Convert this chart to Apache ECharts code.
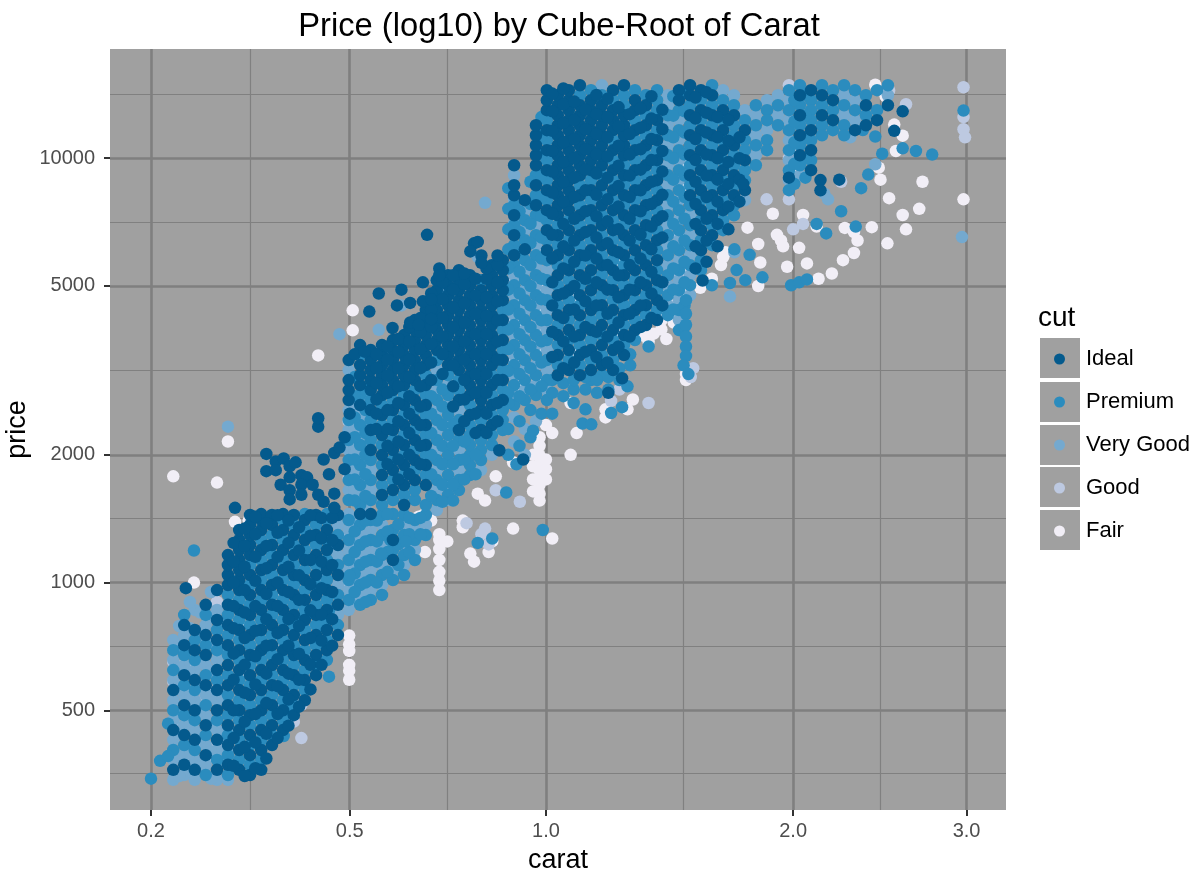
<!DOCTYPE html>
<html><head><meta charset="utf-8">
<script src="https://cdn.jsdelivr.net/npm/echarts@6/dist/echarts.min.js"></script>
<style>html,body{margin:0;background:#fff}#c{width:1196px;height:873px}</style></head>
<body><div id="c"></div><script>
const title = 'Price (log10) by Cube-Root of Carat';
const cutNames = ['Ideal','Premium','Very Good','Good','Fair'];
const cutColors = ['#045a8d','#2b8cbe','#74a9cf','#bdc9e1','#f1eef6'];
const caratBreaks = [0.2,0.5,1,2,3];
const caratMinor = [0.327,0.721,1.5,2.47];
const priceBreaks = [500,1000,2000,5000,10000];
const priceMinor = [356,707,1414,3162,7071,14142];

// each entry: carat, then the prices read at that carat
const ideal = [
[.225,[362,449,558]],[.238,[372,437,514,605,712,794]],[.251,[362,426,500,589,693,773]],[.265,[392,461,573,675,752,886]],[.28,[362,426,500,558,622,732,816,960]],
[.295,[372,414,461,514,573,639,712,794,886,987,1042,1100,1161]],[.311,[362,403,449,500,558,622,693,773,862,960,1014,1070,1130,1193,1260,1330]],
[.327,[352,392,437,487,543,605,675,752,839,935,1042,1161,1226,1294,1367,1443]],[.344,[362,403,449,500,558,622,693,773,862,960,1070,1193,1330,1404,1450]],
[.361,[414,461,514,573,639,712,794,886,987,1100,1226,1367,1443]],[.379,[449,500,558,622,693,773,862,960,1070,1193,1330,1450]],
[.397,[487,543,605,675,752,839,935,1042,1161,1294,1443]],[.416,[528,589,657,732,816,910,1014,1130,1260,1404]],[.436,[605,675,752,839,935,1042,1161,1294,1443]],
[.456,[693,773,862,960,1070,1193,1330]],[.477,[752,886,1042,1226,1443]],[.498,[2692,2842,3000,3344]],[.521,[2620,2920,3082,3254,3627,1450]],
[.543,[2052,2288,2550,2842,3000,3167,3344,3530,1450]],[.567,[1608,1792,1997,2226,2481,2766,2920,3082,3254,3436,3627]],
[.591,[1130,1260,1652,1841,2052,2288,2550,2842,3000,3167,3344,3530,3727]],[.616,[1523,1697,1892,2109,2350,2620,2920,3082,3254,3436,3627,3830]],
[.641,[1744,1944,2167,2415,2692,3000,3167,3344,3530,3727,3935,4154]],[.667,[1697,1892,2109,2350,2620,2920,3254,3436,3627,3830,4043,4386]],
[.694,[3530,3727,3935,4154,4386,4630,4888,5160]],[.722,[3254,3436,3627,3830,4043,4268,4506,4757,5022,5302]],
[.75,[2288,2692,3167,3344,3530,3727,3935,4154,4386,4630,4888,5160,5448]],[.779,[2481,2766,2920,3082,3254,3436,3627,3830,4043,4268,4506,4757,5022,5302]],
[.809,[2288,2550,2692,2842,3000,3167,3344,3530,3727,3935,4154,4386,4630,4888]],[.839,[2350,2620,2920,3254,3436,3627,3830,4043,4268,4506,4757,5022,5302,5597]],
[.87,[2692,3000,3344,3727,4154,4630,4888,5160,5448,5752]],[.903,[5909,6586,7340,8181,8637,9626]],[.935,[6100,7964]],[.969,[7749,8637,9626,10162,10729,11327,11958]],
[1.003,[6072,6768,7544,8408,9372,10446,11644,12978,13701,14465]],[1.038,[3082,3436,3830,4268,4757,5302,5909,6586,7340,7749,8181,8637,9118,9626,10162,10729,11327,11958,12625,13328,14071]],
[1.074,[3167,3530,3935,4386,4888,5448,6072,6768,7544,7964,8408,8877,9372,9895,10446,11029,11644,12292,12978,13701,14465]],
[1.111,[3082,3436,3830,4268,4757,5302,5909,6586,7340,8181,9118,9626,10162,10729,11327,11958,12625,13328,14860]],
[1.149,[3167,3530,3935,4386,4888,5448,6072,6768,7544,8408,9372,9895,10446,11029,11644,12292,12978,13701]],
[1.187,[3254,3627,4043,4506,5022,5597,6238,6953,7749,8637,9626,10162,10729,11327,11958,12625,13328]],
[1.227,[3167,3530,3935,4386,4888,5448,6072,6768,7544,8408,9372,10446,11644,12292,12978,14465]],
[1.267,[3436,3830,4268,4757,5302,5909,6586,7340,8181,9118,10162,10729,11327,11958,12625,14860]],
[1.308,[3935,4386,4888,5448,6072,6768,7544,8408,9372,10446,11644,12978,13701]],[1.35,[4043,4506,5022,5597,6238,6953,7749,8637,9626,10729,11958,13328]],
[1.393,[4154,4630,5160,5752,6411,7146,7964,8877,9895,11029,12292]],[1.481,[14465,13701]],[1.527,[14860,14071,12625,11327,10162,9118,8181]],
[1.573,[14465,12978,11644,10446,9372,8408,7544,6768,6072]],[1.621,[14071,12625,11327,10162,9118,8181,7340,6586]],[1.669,[12978,11644,10446,9372,8408,7544]],
[1.718,[12625,10729,9118,8181]],[1.768,[11644,9895,8408]],[1.979,[9000]],[2.034,[14071,12625,11327,10162]],[2.091,[14465,11644,10446,9372]],[2.148,[14071,12625]],[2.206,[13701,12292]],[2.326,[11644]],[2.387,[13328,11958]],[2.45,[12292]],[2.513,[13328]]
];
const idealFill = [
[.303,[370,430,500,590,680,780,880,1000,1120,1240]],[.319,[350,410,470,550,640,740,850,960,1090,1220,1340]],[.335,[365,420,490,575,670,770,880,1010,1150,1300,1430]],
[.352,[385,440,520,610,710,820,940,1080,1220,1380]],[.37,[430,490,570,660,760,880,1000,1150,1310,1440]],[.388,[460,530,610,710,820,950,1090,1240,1400]],
[.406,[510,590,680,790,910,1040,1190,1350]],[.426,[560,640,740,860,990,1130,1290,1440]],[.446,[640,730,840,970,1120,1270,1420]],[.466,[710,820,950,1100,1260,1420]],
[.555,[2300,2500,2700,2950,3200,3450]],[.579,[1900,2100,2300,2550,2800,3080,3350,3600]],[.603,[1750,1950,2150,2400,2650,2900,3200,3500,3750]],
[.628,[1800,2000,2250,2500,2750,3050,3350,3700,4000]],[.654,[1900,2100,2350,2600,2900,3200,3550,3900,4200]],[.68,[3000,3300,3650,4000,4400,4800]],
[.708,[3100,3450,3800,4200,4650,5100]],[.735,[2600,2900,3250,3600,4000,4450,4900,5300]],[.764,[2400,2700,3000,3350,3700,4100,4550,5050,5350]],
[.794,[2250,2500,2800,3100,3450,3850,4300,4750,5200]],[.824,[2250,2500,2800,3100,3450,3850,4250,4700,5200,5500]],[.855,[2400,2650,3000,3350,3700,4150,4600,5100,5600,5900]],
[1.02,[3400,3900,4500,5100,5800,6600,7400,8300,9300,10400,11600,12900,14200]],[1.056,[3200,3700,4200,4800,5500,6200,7000,7900,8800,9800,10900,12100,13400,14600]],
[1.092,[3300,3800,4400,5000,5700,6400,7200,8100,9000,10000,11100,12300,13600]],[1.13,[3500,4000,4600,5200,5900,6700,7500,8400,9400,10500,11700,13000]],
[1.168,[3400,3900,4500,5100,5800,6500,7300,8200,9200,10200,11400,12700,14100]],[1.207,[3300,3800,4300,4900,5600,6300,7100,8000,9000,10100,11200,12500,13800]],
[1.247,[3600,4100,4700,5300,6000,6800,7700,8600,9600,10700,11900,13200]],[1.288,[3800,4300,4900,5600,6400,7200,8100,9100,10200,11400,12700]],
[1.329,[4000,4500,5100,5800,6600,7500,8400,9400,10500,11800,13100]],[1.371,[4200,4800,5400,6100,6900,7800,8800,9900,11100,12400,14000]],[1.414,[4500,5100,6500,7300,8200,9300,10400,11700,13000]],
[1.55,[5500,6200,7000,7800,8800,9900,11100,12400,13900]],[1.597,[5700,6400,7200,8100,9100,10200,11500,12800,14300]],[1.645,[6200,7000,7900,8900,10000,11200,12500]],
[1.693,[6800,7700,8700,9800,11000,12300]],[1.743,[7900,8900,10000,11200]]
];
const idealExtra = [[.24,970],[.352,1830],[.352,2010],[.367,1930],[.367,1840],[.305,1500],[.38,1960],[.39,1880],[.4,1920],[.39,1770],[.41,1790],[.42,1770],[.375,1700],[.39,1650],[.41,1700],[.43,1700],[.39,1570],[.41,1610],[.44,1610],[.44,2330],[.44,2440],[.45,1950],[.47,2020],[.48,2080],[.46,1800],[.47,1620],[.45,1550],[.47,1500],[.49,1850],[.49,2200],[.5,2500],[.51,3450],[.53,3500],
[.67,6600],[.79,6300],[.8,6350],[.78,6030],[.81,5900],[.81,5670],[.7,5500],[.7,5300],[.66,5100],[.61,4900],[.56,4800],[.54,4350],[.6,4500],[.63,4560],[.66,4600],[.68,4650],[.59,3980],[.63,4100],[.65,4050],[.68,4180],
[2.14,8880],[2.14,8400],[2.24,8900],[2.6,12900],[2.55,11600],[1.76,8700],[1.21,2800],[1.26,3030],[1.58,5150],[.93,1950],[.86,2050]];

const premium = [
[.225,[403,500,622,693]],[.238,[414,487,573,675,839]],[.251,[403,474,558,657,732]],[.265,[352,437,514,605,712,839]],[.28,[382,474,589,693,773]],
[.295,[352,392,437,487,543,605,675,752,839,935]],[.311,[382,426,474,528,589,657,732,816,910]],[.327,[372,414,461,514,573,639,712,794,886,987,1100]],
[.344,[382,426,474,528,589,657,732,816,910,1014,1130,1260]],[.361,[437,487,543,605,675,752,839,935,1042,1161,1294]],[.379,[474,528,589,657,732,816,910,1014,1130,1260,1404]],
[.397,[514,573,639,712,794,886,987,1100,1226,1367]],[.416,[558,622,693,773,862,960,1070,1193,1330,1450]],[.436,[639,712,794,886,987,1100,1226,1367]],
[.456,[657,732,816,910,1014,1130,1260,1404,1450]],[.477,[794,935,1100,1294]],[.498,[910,1014,1130,1260,1404,1565,1744,1944,2167,2415]],
[.521,[886,987,1100,1226,1367,1523,1697,1892,2109,2350,2766,3436]],[.543,[910,1014,1130,1260,1404,1565,1744,1944,2167,2415,2692]],
[.567,[935,1042,1161,1294,1443,1523,1697,1892,2109,2350,2620]],[.591,[1014,1193,1330,1450,1565,1744,1944,2167,2415,2692]],[.616,[1042,1161,1294,1443,1608,1792,1997,2226,2481,2766]],
[.641,[1130,1260,1404,1565,1652,1841,2052,2288,2550,2842]],[.667,[1294,1443,1523,1792,1997,2226,2481,2766,3082,4268]],[.694,[1565,1744,1944,2167,2415,2692,3000,3344,5160]],
[.722,[1608,1792,1997,2226,2481,2766,3082,4757]],[.75,[1652,1744,1944,2167,2415,2842,3000]],[.779,[1792,1892,1997,2109,2226,2350,2620]],[.809,[1944,2052,2167,2415,5160]],
[.839,[2109,2226,2481,2766,3082]],[.87,[2288,2415,2550,2842,3167,3530,3935,4386]],[.903,[2620,2920,3254,3627,4043,4506,5022,5597,6238,6953,7749]],
[.935,[2692,3000,3344,3727,4154,4630,5160,5752,6411,7146]],[.969,[2766,3082,3436,3830,4268,4757,5302,5909,6586,7340,8181,9118]],
[1.003,[2692,3000,3344,3727,4154,4630,5160,5752,6411,7146,7964,8877,9895,11029,12292]],[1.038,[3254,3627,4043,4506,5022,5597,6238,6953]],[1.074,[3344,3727,4154,4630,5160,5752,6411,7146]],
[1.111,[3254,3627,4043,4506,5022,5597,6238,6953,7749,8637,14071]],[1.149,[3000,3344,3727,4154,4630,5160,5752,6411,7146,7964,8877,14465]],
[1.187,[3082,3436,3830,4268,4757,5302,5909,6586,7340,8181,9118,14071]],[1.227,[3344,3727,4154,4630,5160,5752,6411,7146,7964,8877,9895,11029,13701]],
[1.267,[3627,4043,4506,5022,5597,6238,6953,7749,8637,9626,13328,14071]],[1.308,[3727,4154,4630,5160,5752,6411,7146,7964,8877,9895,11029,12292,14465]],
[1.35,[4268,4757,5302,5909,6586,7340,8181,9118,10162,11327,12625,14071]],[1.393,[4386,4888,5448,6072,6768,7544,8408,9372,10446,11644,12978,13701,14465]],
[1.436,[4268,4757,5302,5909,6586,7340,8181,9118,10162,11327,12625]],[1.481,[3935,4386,4888,5448,6072,6768,7544,8408,9372,10446,11644,12978]],
[1.527,[13328,11958,10729,9626,8637,7749,6953,6238,5597,5022]],[1.573,[13701,12292,11029,9895,8877,7964,7146,6411,5752,5448]],[1.621,[13328,11958,10729,9626,8637,7749,6953,6238,14860]],
[1.669,[13701,12292,11029,9895,8877,7964,7146,6768]],[1.718,[13328,11958,11327,10162,9626,8637,7749,7340]],[1.768,[12292,11029,10446,9372,8877]],[1.819,[13328,11958,10729,9626]],
[1.872,[12978,12292,11029,10446]],[1.925,[13328,11958]],[1.979,[14465,12978,11644,10446,9372,8408]],[2.034,[14860,13328,11958,10729,9626]],[2.091,[13701,12978,12292,11029,9895]],
[2.148,[14860,13328,11958,11327]],[2.206,[14465,12978,11644]],[2.266,[14860,13328,11958,11327]],[2.326,[14465,12978]],[2.387,[14071,12625]],[2.45,[14465,12978]],[2.513,[14860]]
];
const premiumFill = [
[.51,[950,1050,1180,1320,1560,1750,1950,2200,2450,2750,3050]],[.532,[900,1000,1120,1250,1400,1600,1800,2000,2250,2550,2850]],
[.886,[2000,2300,2650,2800,3150,3550,3950,4400,4900,5500,6100,6800,7600,8500]],[.919,[2100,2400,2750,3100,3450,3850,4300,4800,5400,6000,6700,7500]],[.952,[2200,2550,2850,3200,3600,4000,4500,5000,5600,6300,7000,7800,8800]],
[.986,[2500,2900,3300,3700,4150,4650,5200,5800,6500,7300,8100,9100,10200,11300,12500]],[1.458,[4400,4900,5500,6200,7000,7900,8900,10000,11200,12600,14000]],
[1.504,[4000,4500,5100,5700,6400,7200,8100,9100,10200,11500,12900,14300]],[2.006,[8700,9700,10900,12200,13700]],[2.062,[9000,10000,11200,12600,14100]],
[.556,[1000,1120,1250,1400]],[.579,[1060,1180,1320,1450]],[.603,[1100,1230,1370]],[.628,[1180,1300,1420]],[.654,[1300,1420]],
[.68,[1600,1800,2000,2250,2500,2750]],[.708,[1550,1700,1900,2100,2350,2600,2850]],[.735,[1560,1700,1900,2100,2350]],[.764,[1750,1950,2150]],[.794,[1800,2000]],
[1.02,[2500,2800,3000]],[1.056,[2750,2950]],[1.09,[2850,3000]],[1.13,[2850,3050]],[1.17,[2800,3000]],[1.21,[2850,3050]],[1.25,[3000,3200]],[1.29,[3250,3450]]
];
const premiumExtra = [[.2,345],[.21,380],[.219,390],[.219,465],[.25,1190],[.39,500],[.41,820],[.41,790],[.42,840],[.44,790],[.46,940],[.46,860],[.5,1040],[.38,435],[.46,600],[.3,1010],
[.565,1170],[.585,1260],[.62,1250],[.8,1240],[.84,1270],[.99,1330],[.88,1630],[.91,1900],[.96,2280],[1.09,2650],[1.12,2370],[1.15,2360],[1.13,2560],[1.22,2510],[1.26,2590],[1.28,2900],[1.36,3600],
[1.51,4630],[1.51,4300],[1.51,4050],[1.51,3800],[1.51,3600],[1.51,3420],[1.5,3250],[1.52,3100],[1.62,5020],[1.7,5080],[1.73,5450],[1.77,5160],[1.85,5240],[1.99,5020],[2.03,5100],[2.07,5180],
[1.72,6100],[1.79,5920],[2.17,6650],[2.12,7000],[2.33,6900],[2.36,8500],[2.4,9150],[2.48,10250],[2.68,10400],[2.78,10200],[2.6,10550],[2.98,12950],[2.25,7500],[2.44,11250],[2.37,11650]];

const veryGood = [
[.225,[343,382,426,474,528,589,657,732]],[.238,[352,392,461,543,639,752]],[.251,[343,382,449,528,622,862]],[.265,[372,414,487,543,639,794]],[.28,[343,403,449,528,657,862]],
[.295,[343,403,449]],[.477,[839,987,1161,1367]],[.498,[862,960,1070,1193,1330,1450,1652,1841,2052,2288,2550,3167]],[.521,[935,1042,1161,1294,1443,1608,1792,1997,2226,2481]],
[.543,[960,1070,1193,1330,1652,1841]],[.567,[987,1100,1226,1367]],[.591,[1070]],[.616,[1100,1226,1367]],[.641,[1193,1330]],[.667,[1367]],
[.694,[1652,1841,2052,2288,2550,2842,3167,1482]],[.722,[1697,1892,2109,2350,2620,2920,1565]],[.75,[1841,2052,2550]],[.809,[1841]],[.839,[2000]],
[.903,[2150,2450,2766,3082,3436,3830,4268,4757,5302,7000,8000,9118]],[.935,[2000,2300,2842,3167,3530,3935,4386,4888,5448,6072,6768,7544]],[.969,[2400,2920,3254,3627,4043,4506,5022,5597,6238,6953]],
[1.003,[2842,3167,3530,3935,4386,4888,5448]],[1.187,[14860]],[1.436,[4506,5022,5597,6238,6953,7749,8637,9626,10729,11958,13328,14071]],[1.481,[4154,4630,5160,5752,6411,7146,7964,8877,9895,11029,12292]],
[1.527,[7340,6586,5909,5302,4757]],[1.669,[14465]],[1.718,[14071]],[1.768,[12978,7964]],[1.819,[12625,11327,10162]],[1.872,[13701,11644]],[1.925,[14071,12625]],[1.979,[13701,12292,11029,9895,8877]],[2.034,[9118]],[2.266,[14071,12625]],[2.326,[13701,12292]],[2.513,[14071]]
];
const veryGoodFill = [
[.232,[350,390,440,490,560,630,710,790]],[.245,[360,410,470,530,610,700,780,900]],[.258,[370,430,500,570,650,750,850]],[.272,[345,400,460,540,620,720,830,950]],[.287,[380,430,540,700,800]],
[.51,[900,1000,1110,1250,1400,1650,1850,2050,2320,2600]],[.532,[950,1060,1180,1320,1500,1700,1900,2120,2400,2700]]
];
const veryGoodExtra = [[.295,2330],[.42,660],[.48,3850],[.56,3940],[.61,4500],[.82,7850],[.8,5850],[.7,4900],[.44,1040],[.46,1200],[1.7,4720],[1.72,6000],[2.18,8000],[2.16,8250],[2.44,9680],[2.3,11200],[2.97,6520]];

const good = [
[.225,[470,585,650]],[.238,[390,560,640,690]],[.251,[410,520,558,640]],[.265,[558,540,380]],[.28,[560,420,900]],[.498,[1000,1300,1760,2100,2400]],[.903,[3300,4100,5100]],[.935,[3000,3700,4600]],[.969,[3900,4800]],[1.481,[4400,5400,6600]],[1.979,[14860,10000,8000]]
];
const goodExtra = [[.372,500],[.397,470],[.41,515],[.41,430],[.575,3540],[.53,2730],[.77,1380],[.82,1340],[.83,1230],[.81,1300],[.92,1550],[.85,1650],[1.36,2650],[1.22,2680],[1.25,2850],[1.53,3050],[1.54,3200],[2.0,6800],[2.05,7000],[1.87,8000],[2.52,14450],[2.62,13400],[2.98,14700],[2.98,12500],[2.98,11700],[2.99,11200],[2.25,8800]];

const fair = [
[.7,[960,1010,1060,1130,1200,1260,1300]],[.499,[590,620,640,690,715,750]],[.98,[1560,1620,1700,1760,1840,1900,1990,2100,2200]],[.96,[1640,1750,1880,2000,2250]],[1.0,[1750,1850,1950,2350]],
[1.51,[3000,3100,4700,5000]],[1.48,[4150,4350,4900]],[1.46,[4500,4100]],[1.41,[4150,4350]],[1.43,[3750]],[1.44,[4800]],[1.52,[5100]],
[.505,[1000,1160,1400,1700,2100,2500]],[.91,[2900,3400,4000,4700,5500]],[.975,[3000,3600,4300,5100,6000]],[1.49,[5400,6300,7300,8500,9800]],[1.99,[9200,10500,12000]],
[.31,[600,800]],[.38,[700,950]],[1.1,[3500,4700]],[1.25,[3900,5600]]
];
const fairExtra = [[.25,1000],[.225,1780],[.295,2150],[.28,1720],[.305,1390],[.325,1400],[.506,4380],[.506,3930],[.44,3430],[.33,1430],[.65,1430],[.66,1440],[.68,1400],[.665,1180],[.72,1250],[.76,1350],[.76,1400],[.78,1170],[.79,1120],[.83,1180],[.84,1250],[.9,1340],[1.02,1270],
[.9,1920],[.85,1780],[.8,1620],[.82,1560],[1.08,2000],[1.1,2250],[1.08,2650],[1.02,2250],[1.2,2560],[1.2,2450],[1.3,2700],[1.28,2560],[1.34,3820],[1.38,3860],[1.41,3950],[1.36,3700],
[1.57,4950],[1.58,5700],[1.66,5600],[1.62,5200],[1.67,5850],[1.68,6000],[1.83,6280],[1.84,5680],[1.83,5000],[1.92,6600],[1.94,6400],[1.95,6200],[1.97,5550],[2.03,6150],[2.07,5650],[2.13,5200],[2.2,5350],[2.26,5750],[2.32,5980],[2.34,6400],[2.32,6700],[2.27,6850],[2.42,6880],[2.12,6900],[2.05,7350],[1.9,7400],[1.78,6860],
[2.52,8050],[2.6,7350],[2.7,7600],[2.62,6800],[2.51,6300],[2.98,8000],[2.72,8800],[2.47,8900],[2.46,9500],[2.5,14000],[2.44,14900],[2.55,12000],[2.6,11300],[2.56,10400]];

const toX = c => Math.cbrt(c), toY = p => Math.log10(p);
function points(extra, ...lists){
  const out = [];
  lists.forEach(cols => cols.forEach(([c, ps]) => ps.forEach(p => out.push([toX(c), toY(p)]))));
  extra.forEach(([c, p]) => out.push([toX(c), toY(p)]));
  return out;
}
const seriesData = [points(idealExtra,ideal,idealFill),points(premiumExtra,premium,premiumFill),points(veryGoodExtra,veryGood,veryGoodFill),points(goodExtra,good),points(fairExtra,fair)];
const font = '"Liberation Sans", Arial, sans-serif';
const xMin=0.5417,xMax=1.4837,yMin=2.464,yMax=4.2574;
const major = {show:true,lineStyle:{color:'#7f7f7f',width:2.6}}, minor = {show:true,lineStyle:{color:'#808080',width:1.2}};
const order = [4,3,2,1,0];
const chart = echarts.init(document.getElementById('c'),null,{renderer:'canvas'});
const keyTops = [338,382,425,467,510];
chart.setOption({
  animation:false,
  backgroundColor:'#fff',
  title:{text:title,left:554,top:5,textAlign:'center',textStyle:{fontFamily:font,fontSize:32.7,fontWeight:'normal',color:'#000'}},
  grid:{left:110,right:190,top:49,bottom:63,show:true,backgroundColor:'#a0a0a0',borderWidth:0,outerBoundsMode:'none'},
  xAxis:[
    {type:'value',min:xMin,max:xMax,name:'carat',nameLocation:'middle',nameGap:37,nameMoveOverlap:false,nameTextStyle:{fontFamily:font,fontSize:27,color:'#000'},
     axisLine:{show:false},axisTick:{show:true,length:6,lineStyle:{color:'#333',width:2},customValues:caratBreaks.map(toX)},
     axisLabel:{show:true,color:'#4d4d4d',fontFamily:font,fontSize:20,margin:11,customValues:caratBreaks.map(toX),formatter:v=>Math.pow(v,3).toFixed(1)},splitLine:major},
    {type:'value',min:xMin,max:xMax,axisLine:{show:false},axisTick:{show:false,customValues:caratMinor.map(toX)},axisLabel:{show:false},splitLine:minor}
  ],
  yAxis:[
    {type:'value',min:yMin,max:yMax,name:'price',nameLocation:'middle',nameGap:79,nameMoveOverlap:false,nameTextStyle:{fontFamily:font,fontSize:27,color:'#000'},
     axisLine:{show:false},axisTick:{show:true,length:6,lineStyle:{color:'#333',width:2},customValues:priceBreaks.map(toY)},
     axisLabel:{show:true,color:'#4d4d4d',fontFamily:font,fontSize:20,margin:15,customValues:priceBreaks.map(toY),formatter:v=>String(Math.round(Math.pow(10,v)))},splitLine:major},
    {type:'value',min:yMin,max:yMax,position:'left',axisLine:{show:false},axisTick:{show:false,customValues:priceMinor.map(toY)},axisLabel:{show:false},splitLine:minor}
  ],
  legend:{orient:'vertical',left:1054,top:348,padding:0,itemWidth:11,itemHeight:11,itemGap:21,icon:'circle',selectedMode:false,data:cutNames,
    textStyle:{fontFamily:font,fontSize:22,color:'#000',padding:[0,0,0,16],lineHeight:17}},
  graphic:[
    {type:'text',left:1038,top:304,style:{text:'cut',font:'28px '+font,fill:'#000'}},
    ...keyTops.map(t=>({type:'rect',shape:{x:1040,y:t,width:40,height:40},style:{fill:'#a0a0a0'},silent:true}))
  ],
  series:order.map(i=>({type:'scatter',name:cutNames[i],data:seriesData[i],symbol:'circle',symbolSize:12.5,itemStyle:{color:cutColors[i],opacity:1},silent:true,large:false,progressive:0,clip:true}))
});
</script></body></html>
